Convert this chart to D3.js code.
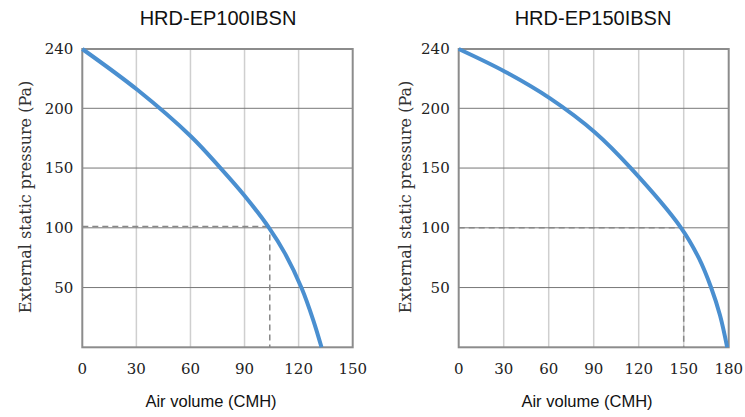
<!DOCTYPE html>
<html><head><meta charset="utf-8">
<script src="https://cdn.jsdelivr.net/npm/d3@7"></script>
<style>body{margin:0;background:#fff}svg{display:block}</style>
</head><body><svg id="c" width="745" height="417"></svg>
<script>
const titles = ["HRD-EP100IBSN", "HRD-EP150IBSN"];
const xMaxes = [150, 180];
const xTicksLeft = [0, 30, 60, 90, 120, 150];
const xTicksRight = [0, 30, 60, 90, 120, 150, 180];
const yTicks = [50, 100, 150, 200, 240];
const yTickLabels = ["50", "100", "150", "200", "240"];
const curveLeft = [[0,240],[30.7,212.3],[60.3,176.4],[76.8,149.7],[89.9,127],[103.6,100],[112.4,78.6],[121.7,49.4],[128.1,22.8],[132.7,0]];
const curveRight = [[0,240],[30.9,224.7],[60.9,206.7],[90.9,179.8],[114.9,149.7],[148,100.4],[160.2,74.4],[168.2,50.3],[174.2,26.9],[179,0]];
const opPointLeft = [104, 101];
const opPointRight = [150, 100];
const xTitle = "Air volume (CMH)";
const yTitle = "External static pressure (Pa)";

const svg = d3.select("#c");
const panels = [
  {left:82.3, right:352.7, title:titles[0], xMax:xMaxes[0], xt:xTicksLeft, data:curveLeft, op:opPointLeft, ytx:25, tlx:218, axx:211},
  {left:458.7, right:728.7, title:titles[1], xMax:xMaxes[1], xt:xTicksRight, data:curveRight, op:opPointRight, ytx:405, tlx:593, axx:587}
];
const plotTop = 49, plotBottom = 347.3;

panels.forEach(p => {
  const g = svg.append("g");
  const x = d3.scaleLinear().domain([0, p.xMax]).range([p.left, p.right]);
  const y = d3.scaleLinear().domain([0, 200, 240]).range([plotBottom, 108.3, plotTop]);

  g.selectAll(".vg").data(p.xt.filter(v => v > 0 && v < p.xMax)).enter().append("line")
    .attr("x1", d => x(d)).attr("x2", d => x(d)).attr("y1", plotTop).attr("y2", plotBottom)
    .attr("stroke", "#cfcfcf").attr("stroke-width", 1.5);
  g.selectAll(".hg").data(yTicks.filter(v => v < 240)).enter().append("line")
    .attr("x1", p.left).attr("x2", p.right).attr("y1", d => y(d)).attr("y2", d => y(d))
    .attr("stroke", "#777").attr("stroke-width", 1);
  g.append("line").attr("x1", x(0)).attr("x2", x(p.op[0])).attr("y1", y(p.op[1])).attr("y2", y(p.op[1]))
    .attr("stroke", "#888").attr("stroke-width", 1.5).attr("stroke-dasharray", "6,4");
  g.append("line").attr("x1", x(p.op[0])).attr("x2", x(p.op[0])).attr("y1", y(p.op[1]) + 8).attr("y2", y(0))
    .attr("stroke", "#888").attr("stroke-width", 1.5).attr("stroke-dasharray", "6,4");
  g.append("rect").attr("x", p.left).attr("y", plotTop).attr("width", p.right - p.left).attr("height", plotBottom - plotTop)
    .attr("fill", "none").attr("stroke", "#8c8c8c").attr("stroke-width", 2);
  const line = d3.line().x(d => x(d[0])).y(d => y(d[1])).curve(d3.curveCatmullRom.alpha(0.5));
  g.append("path").datum(p.data).attr("d", line).attr("fill", "none")
    .attr("stroke", "#4a8fd0").attr("stroke-width", 4);

  g.selectAll(".yl").data(yTicks).enter().append("text")
    .attr("x", p.left - 9).attr("y", d => y(d)).attr("dy", "0.36em")
    .attr("text-anchor", "end").attr("font-family", "DejaVu Serif").attr("font-size", 15)
    .attr("fill", "#222").text((d, i) => yTickLabels[i]);
  g.selectAll(".xl").data(p.xt).enter().append("text")
    .attr("x", d => x(d)).attr("y", 374)
    .attr("text-anchor", "middle").attr("font-family", "DejaVu Serif").attr("font-size", 15)
    .attr("fill", "#222").text(d => d);
  g.append("text").attr("x", p.tlx).attr("y", 25).attr("text-anchor", "middle")
    .attr("font-family", "Liberation Sans, Arial").attr("font-size", 20).attr("fill", "#111").text(p.title);
  g.append("text").attr("x", p.axx).attr("y", 407).attr("text-anchor", "middle")
    .attr("font-family", "Liberation Sans, Arial").attr("font-size", 16.5).attr("fill", "#111").text(xTitle);
  g.append("text").attr("transform", `translate(${p.ytx},197) rotate(-90)`).attr("dy", "0.35em")
    .attr("text-anchor", "middle").attr("font-family", "DejaVu Serif").attr("font-size", 16)
    .attr("fill", "#333").text(yTitle);
});
</script></body></html>
